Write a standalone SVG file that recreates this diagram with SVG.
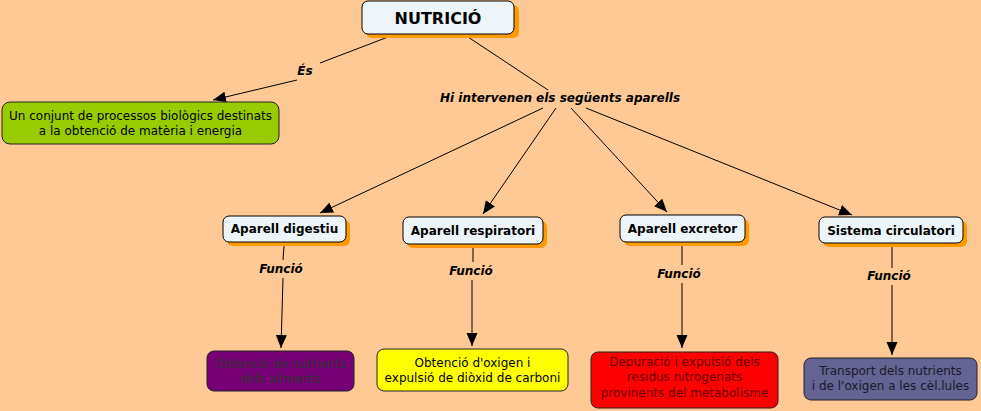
<svg xmlns="http://www.w3.org/2000/svg" width="981" height="411" viewBox="0 0 981 411">
<style>
.bg{fill:#FFC996}
.sh{fill:#FF9900}
.nd{fill:#EEF5F9;stroke:#000;stroke-width:1}
.cb{stroke:#222;stroke-width:1}
.t{font-family:"DejaVu Sans",Verdana,sans-serif;font-size:12px;text-anchor:middle}
.b{font-weight:bold}
.lb{font-family:"DejaVu Sans",Verdana,sans-serif;font-size:12px;font-weight:bold;font-style:italic;text-anchor:middle}
.c line{stroke:#000;stroke-width:1}
.a{marker-end:url(#ar)}
</style>
<defs>
<marker id="ar" markerUnits="userSpaceOnUse" markerWidth="14" markerHeight="12" refX="13" refY="5.5" orient="auto" viewBox="0 0 14 12">
<path d="M0,0 L13,5.5 L0,11 z" fill="#000"/>
</marker>
</defs>
<rect class="bg" x="0" y="0" width="981" height="411"/>
<g class="c" id="connectors">
<line x1="388" y1="37" x2="320" y2="63"/>
<line class="a" x1="297" y1="80" x2="213" y2="100"/>
<line x1="468" y1="37" x2="548" y2="90"/>
<line class="a" x1="543" y1="108" x2="320" y2="213"/>
<line class="a" x1="556" y1="108" x2="483" y2="214"/>
<line class="a" x1="571" y1="108" x2="667" y2="212"/>
<line class="a" x1="586" y1="108" x2="852" y2="215"/>
<line x1="284" y1="246" x2="283" y2="260"/>
<line class="a" x1="283" y1="278" x2="281" y2="348"/>
<line x1="473" y1="248" x2="473" y2="262"/>
<line class="a" x1="472" y1="280" x2="472" y2="346"/>
<line x1="682" y1="246" x2="682" y2="265"/>
<line class="a" x1="682" y1="283" x2="682" y2="348"/>
<line x1="892" y1="246" x2="892" y2="268"/>
<line class="a" x1="892" y1="285" x2="892" y2="355"/>
<text class="lb" x="305" y="75">És</text>
<text class="lb" x="560" y="102">Hi intervenen els següents aparells</text>
<text class="lb" x="281" y="273">Funció</text>
<text class="lb" x="471" y="275">Funció</text>
<text class="lb" x="679" y="278">Funció</text>
<text class="lb" x="889" y="280">Funció</text>
</g>
<g id="nutricio">
<rect class="sh" x="366" y="5" width="153" height="33" rx="6"/>
<rect class="nd" x="362" y="1" width="152" height="33" rx="6"/>
<text class="t b" x="438" y="24" style="font-size:16px">NUTRICIÓ</text>
</g>
<g id="definicio">
<rect class="cb" x="2" y="102" width="277" height="42" rx="8" fill="#99CC00"/>
<text class="t" x="140.5" y="120">Un conjunt de processos biològics destinats</text>
<text class="t" x="140.5" y="135">a la obtenció de matèria i energia</text>
</g>
<g id="digestiu">
<rect class="sh" x="227" y="220" width="123" height="26" rx="6"/>
<rect class="nd" x="223" y="216" width="123" height="26" rx="6"/>
<text class="t b" x="284.5" y="233">Aparell digestiu</text>
</g>
<g id="respiratori">
<rect class="sh" x="407" y="221" width="140" height="27" rx="6"/>
<rect class="nd" x="403" y="217" width="140" height="27" rx="6"/>
<text class="t b" x="473" y="235">Aparell respiratori</text>
</g>
<g id="excretor">
<rect class="sh" x="624" y="219" width="125" height="27" rx="6"/>
<rect class="nd" x="620" y="215" width="125" height="27" rx="6"/>
<text class="t b" x="682.5" y="233">Aparell excretor</text>
</g>
<g id="circulatori">
<rect class="sh" x="823" y="221" width="144" height="26" rx="6"/>
<rect class="nd" x="819" y="217" width="144" height="26" rx="6"/>
<text class="t b" x="891" y="235">Sistema circulatori</text>
</g>
<g id="f-digestiu">
<rect class="cb" x="207" y="351" width="147" height="40" rx="7" fill="#770077"/>
<text class="t" x="280.5" y="368" fill="#333">Obtenció de nutrients</text>
<text class="t" x="280.5" y="383" fill="#333">dels aliments</text>
</g>
<g id="f-respiratori">
<rect class="cb" x="377" y="349" width="191" height="42" rx="7" fill="#FFFF00"/>
<text class="t" x="472.5" y="367">Obtenció d'oxigen i</text>
<text class="t" x="472.5" y="382">expulsió de diòxid de carboni</text>
</g>
<g id="f-excretor">
<rect class="cb" x="591" y="352" width="187" height="56" rx="7" fill="#FF0000"/>
<text class="t" x="684.5" y="366" fill="#660000">Depuració i expulsió dels</text>
<text class="t" x="684.5" y="381" fill="#660000">residus nitrogenats</text>
<text class="t" x="684.5" y="397" fill="#660000">provinents del metabolisme</text>
</g>
<g id="f-circulatori">
<rect class="cb" x="804" y="358" width="173" height="42" rx="7" fill="#636394"/>
<text class="t" x="890.5" y="375" fill="#1a1a2a">Transport dels nutrients</text>
<text class="t" x="890.5" y="390" fill="#1a1a2a">i de l'oxigen a les cèl.lules</text>
</g>
</svg>
